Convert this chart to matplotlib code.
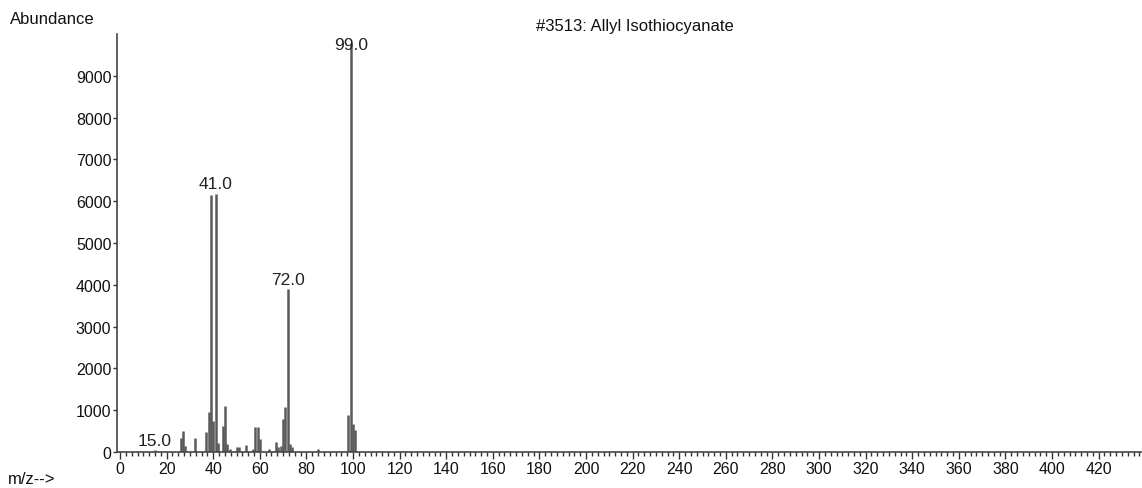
import matplotlib
matplotlib.use("Agg")
import matplotlib.pyplot as plt
from matplotlib.ticker import MultipleLocator

plt.rcParams['font.family'] = ['Liberation Sans', 'DejaVu Sans']

# ---- data ----
mz = [15, 26, 27, 28, 32, 37, 38, 39, 40, 41, 42, 44, 45, 46, 47, 50, 51,
      54, 57, 58, 59, 60, 64, 67, 68, 69, 70, 71, 72, 73, 74, 85,
      98, 99, 100, 101]
abundance = [40, 330, 510, 140, 330, 470, 950, 6150, 750, 6170, 210, 630, 1100,
             200, 80, 110, 130, 160, 80, 600, 600, 300, 60, 230, 120, 150,
             780, 1070, 3900, 180, 130, 70, 890, 9760, 670, 530]
label_mz = [15, 41, 72, 99]
label_text = ["15.0", "41.0", "72.0", "99.0"]
y_ticks = [0, 1000, 2000, 3000, 4000, 5000, 6000, 7000, 8000, 9000]
x_ticks = list(range(0, 421, 20))
title = "#3513: Allyl Isothiocyanate"

# ---- figure ----
fig = plt.figure(figsize=(11.42, 4.89), dpi=100)
ax = fig.add_axes([117/1142, 36/489, 1 - 117/1142, (453 - 35)/489])

ax.vlines(mz, 0, abundance, colors='#5a5a5a', linewidth=1.8)

ax.set_xlim(-1.3, 438.6)
ax.set_ylim(0, 10000)

label_offsets = {15: 60, 41: 80, 72: 40, 99: -20}
lookup = dict(zip(mz, abundance))
for m, t in zip(label_mz, label_text):
    yv = lookup[m] + label_offsets[m]
    va = 'bottom' if m != 99 else 'center'
    ax.text(m, yv, t, ha='center', va=va, fontsize=12.5, color='#222222')

ax.set_yticks(y_ticks)
ax.set_xticks(x_ticks)
ax.xaxis.set_minor_locator(MultipleLocator(2.5))
ax.tick_params(axis='both', which='major', labelsize=11.5, colors='#333333',
               labelcolor='#111111', width=1)
ax.tick_params(axis='y', which='major', length=3, pad=1)
ax.tick_params(axis='x', which='major', length=5, pad=1.5)
ax.tick_params(axis='x', which='minor', length=3, width=1, colors='#333333')

for s in ['top', 'right']:
    ax.spines[s].set_visible(False)
for s in ['left', 'bottom']:
    ax.spines[s].set_color('#444444')
    ax.spines[s].set_linewidth(1.2)

fig.text(10/1142, 1 - 20/489, "Abundance", ha='left', va='center', fontsize=12, color='#111111')
fig.text(8/1142, 1 - 480/489, "m/z-->", ha='left', va='center', fontsize=12, color='#111111')
fig.text(635/1142, 1 - 27/489, title, ha='center', va='center', fontsize=12, color='#111111')

fig.savefig("out.png", dpi=100)
